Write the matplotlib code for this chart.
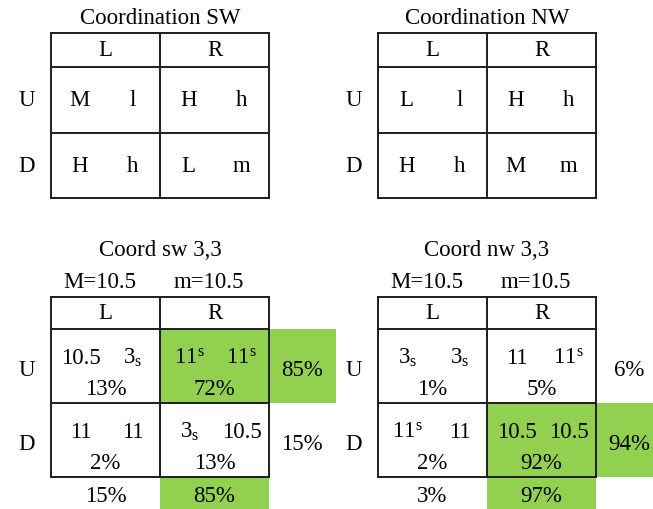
import matplotlib
matplotlib.use("Agg")
from matplotlib import pyplot as plt
from matplotlib.patches import Rectangle

plt.rcParams['font.family'] = ['Liberation Serif', 'DejaVu Serif']
plt.rcParams['mathtext.fontset'] = 'custom'
plt.rcParams['mathtext.rm'] = 'Liberation Serif'
plt.rcParams['mathtext.default'] = 'regular'

# ---- data ----
col_labels = ["L", "R"]
row_labels = ["U", "D"]

top_titles = ["Coordination SW", "Coordination NW"]
sw_payoffs = [[("M", "l"), ("H", "h")],
              [("H", "h"), ("L", "m")]]
nw_payoffs = [[("L", "l"), ("H", "h")],
              [("H", "h"), ("M", "m")]]

bottom_titles = ["Coord sw 3,3", "Coord nw 3,3"]
param_labels = ["M=10.5", "m=10.5"]
sw33_payoffs = [[("10.5", r"$3_{s}$"), (r"$11^{s}$", r"$11^{s}$")],
                [("11", "11"), (r"$3_{s}$", "10.5")]]
nw33_payoffs = [[(r"$3_{s}$", r"$3_{s}$"), ("11", r"$11^{s}$")],
                [(r"$11^{s}$", "11"), ("10.5", "10.5")]]
sw33_cell_pct = [[13, 72], [2, 13]]
sw33_row_pct = [85, 15]
sw33_col_pct = [15, 85]
nw33_cell_pct = [[1, 5], [2, 92]]
nw33_row_pct = [6, 94]
nw33_col_pct = [3, 97]

GREEN = '#92D050'
LINE = '#1e1e1e'
FS = 16.5

fig = plt.figure(figsize=(6.53, 5.10), dpi=100)
ax = fig.add_axes([0, 0, 1, 1])
ax.set_xlim(0, 653)
ax.set_ylim(510, 0)
ax.axis('off')


def grid(x0, y0, cw, hh, rh):
    x1 = x0 + 2 * cw
    y1 = y0 + hh + 2 * rh
    for x in (x0, x0 + cw, x1):
        ax.plot([x, x], [y0, y1], color=LINE, lw=1.4, solid_capstyle='projecting')
    for y in (y0, y0 + hh, y0 + hh + rh, y1):
        ax.plot([x0, x1], [y, y], color=LINE, lw=1.4, solid_capstyle='projecting')


def top_table(x0, title, payoffs):
    y0, cw, hh, rh = 34, 109, 34, 65.5
    ax.text(x0 + cw, 18, title, ha='center', va='center', fontsize=FS)
    for j, c in enumerate(col_labels):
        ax.text(x0 + cw * (j + 0.5), y0 + hh / 2, c, ha='center', va='center', fontsize=FS)
    for i, r in enumerate(row_labels):
        yc = y0 + hh + rh * (i + 0.5)
        ax.text(x0 - 24, yc, r, ha='center', va='center', fontsize=FS)
        for j in range(2):
            a, b = payoffs[i][j]
            ax.text(x0 + cw * (j + 0.26), yc, a, ha='center', va='center', fontsize=FS)
            ax.text(x0 + cw * (j + 0.75), yc, b, ha='center', va='center', fontsize=FS)
    grid(x0, y0, cw, hh, rh)


def bottom_table(x0, title, payoffs, cell_pct, row_pct, col_pct):
    y0, cw, hh, rh = 298, 109, 32, 74
    ext_w, ext_h = 67, 32
    ax.text(x0 + cw, 251, title, ha='center', va='center', fontsize=FS)
    for j, p in enumerate(param_labels):
        ax.text(x0 + cw * (j + 0.45), 283, p, ha='center', va='center', fontsize=FS)
    # highlights: largest cell, largest row and column share
    best = max((cell_pct[i][j], i, j) for i in range(2) for j in range(2))
    _, bi, bj = best
    ax.add_patch(Rectangle((x0 + cw * bj, y0 + hh + rh * bi), cw, rh, color=GREEN, lw=0))
    ri = row_pct.index(max(row_pct))
    ax.add_patch(Rectangle((x0 + 2 * cw, y0 + hh + rh * ri), ext_w, rh, color=GREEN, lw=0))
    cj = col_pct.index(max(col_pct))
    ax.add_patch(Rectangle((x0 + cw * cj, y0 + hh + 2 * rh), cw, ext_h, color=GREEN, lw=0))

    for j, c in enumerate(col_labels):
        ax.text(x0 + cw * (j + 0.5), y0 + hh / 2, c, ha='center', va='center', fontsize=FS)
        ax.text(x0 + cw * (j + 0.5), y0 + hh + 2 * rh + 19, f"{col_pct[j]}%",
                ha='center', va='center', fontsize=FS)
    for i, r in enumerate(row_labels):
        yt = y0 + hh + rh * i
        ax.text(x0 - 24, yt + rh * 0.55, r, ha='center', va='center', fontsize=FS)
        ax.text(x0 + 2 * cw + 33, yt + rh * 0.55, f"{row_pct[i]}%",
                ha='center', va='center', fontsize=FS)
        for j in range(2):
            a, b = payoffs[i][j]
            ax.text(x0 + cw * (j + 0.27), yt + rh * 0.38, a, ha='center', va='center', fontsize=FS)
            ax.text(x0 + cw * (j + 0.75), yt + rh * 0.38, b, ha='center', va='center', fontsize=FS)
            ax.text(x0 + cw * (j + 0.5), yt + rh * 0.81, f"{cell_pct[i][j]}%",
                    ha='center', va='center', fontsize=FS)
    grid(x0, y0, cw, hh, rh)


top_table(51, top_titles[0], sw_payoffs)
top_table(378, top_titles[1], nw_payoffs)
bottom_table(51, bottom_titles[0], sw33_payoffs, sw33_cell_pct, sw33_row_pct, sw33_col_pct)
bottom_table(378, bottom_titles[1], nw33_payoffs, nw33_cell_pct, nw33_row_pct, nw33_col_pct)

fig.savefig("out.png", dpi=100)
